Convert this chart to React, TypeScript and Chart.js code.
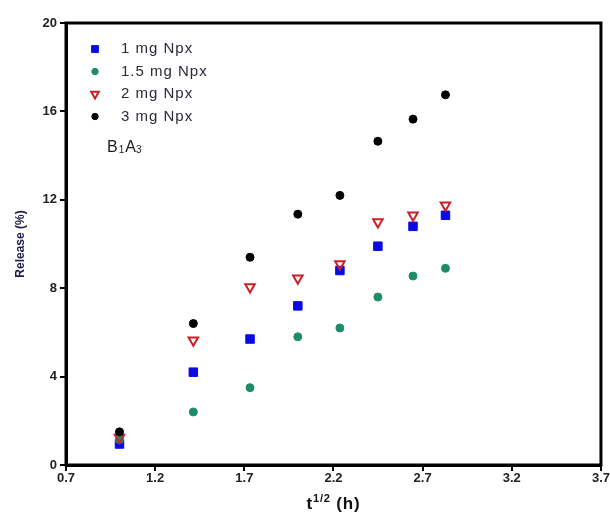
import React, { useEffect, useRef } from "react";
import { Chart, registerables } from "chart.js";
import { drawPoint } from "chart.js/helpers";

Chart.register(...registerables);

const tValues = [1.0, 1.414, 1.732, 2.0, 2.236, 2.449, 2.646, 2.828];
const release1mg = [0.95, 4.2, 5.7, 7.2, 8.8, 9.9, 10.8, 11.3];
const release15mg = [1.15, 2.4, 3.5, 5.8, 6.2, 7.6, 8.55, 8.9];
const release2mg = [1.25, 5.65, 8.05, 8.45, 9.1, 11.0, 11.3, 11.75];
const release3mg = [1.5, 6.4, 9.4, 11.35, 12.2, 14.65, 15.65, 16.75];
const seriesLabels = ["1 mg Npx", "1.5 mg Npx", "2 mg Npx", "3 mg Npx"];

const FONT = "Arial, 'Liberation Sans', sans-serif";

const toPts = (ys: number[]) => ys.map((y, i) => ({ x: tValues[i], y }));

export default function App() {
  const ref = useRef<HTMLCanvasElement | null>(null);
  useEffect(() => {
    document.body.style.margin = "0";
    const canvas = ref.current!;
    const boxPlugin = {
      id: "boxAndLegend",
      afterDraw(chart: any) {
        const ctx = chart.ctx as CanvasRenderingContext2D;
        const a = chart.chartArea;
        ctx.save();
        ctx.strokeStyle = "#000";
        ctx.lineWidth = 3;
        ctx.strokeRect(a.left, a.top, a.right - a.left, a.bottom - a.top);

        // legend
        const rows = [49, 71.5, 94, 116.5];
        [0, 1, 2, 3].forEach((di, r) => {
          const ds = chart.data.datasets[di];
          ctx.fillStyle = ds.backgroundColor;
          ctx.strokeStyle = ds.borderColor;
          ctx.lineWidth = ds.borderWidth;
          drawPoint(
            ctx,
            {
              pointStyle: ds.pointStyle,
              radius: ds.pointRadius * 0.8,
              rotation: ds.pointRotation || 0,
              borderWidth: ds.borderWidth,
            } as any,
            95,
            rows[r]
          );
        });
        ctx.fillStyle = "#2b2b38";
        ctx.font = `15px ${FONT}`;
        (ctx as any).letterSpacing = "1px";
        ctx.textBaseline = "middle";
        ctx.textAlign = "left";
        seriesLabels.forEach((l, r) => ctx.fillText(l, 121, rows[r]));

        // B1A3 label
        ctx.fillStyle = "#1a1a1a";
        (ctx as any).letterSpacing = "0px";
        ctx.textBaseline = "alphabetic";
        let x = 107;
        const by = 152;
        ctx.font = `16px ${FONT}`;
        ctx.fillText("B", x, by);
        x += ctx.measureText("B").width + 1;
        ctx.font = `10px ${FONT}`;
        ctx.fillText("1", x, by + 1);
        x += ctx.measureText("1").width + 1;
        ctx.font = `16px ${FONT}`;
        ctx.fillText("A", x, by);
        x += ctx.measureText("A").width;
        ctx.font = `10px ${FONT}`;
        ctx.fillText("3", x, by + 1);

        // x title with superscript
        const base = 509;
        ctx.fillStyle = "#111";
        (ctx as any).letterSpacing = "0.8px";
        ctx.font = `bold 17px ${FONT}`;
        const wT = ctx.measureText("t").width;
        const wH = ctx.measureText(" (h)").width;
        ctx.font = `bold 11px ${FONT}`;
        const wS = ctx.measureText("1/2").width;
        const total = wT + wS + wH;
        let tx = (a.left + a.right) / 2 - total / 2;
        ctx.font = `bold 17px ${FONT}`;
        ctx.fillText("t", tx, base);
        tx += wT;
        ctx.font = `bold 11px ${FONT}`;
        ctx.fillText("1/2", tx, base - 7);
        tx += wS;
        ctx.font = `bold 17px ${FONT}`;
        ctx.fillText(" (h)", tx, base);
        ctx.restore();
      },
    };

    const chart = new Chart(canvas, {
      type: "scatter",
      data: {
        datasets: [
          {
            label: seriesLabels[0],
            data: toPts(release1mg),
            pointStyle: "rect",
            pointRadius: 6,
            backgroundColor: "#0a0ae6",
            borderColor: "#0a0ae6",
            borderWidth: 1,
            order: 3,
          },
          {
            label: seriesLabels[1],
            data: toPts(release15mg),
            pointStyle: "circle",
            pointRadius: 4,
            backgroundColor: "#1f8c68",
            borderColor: "#1f8c68",
            borderWidth: 1,
            order: 2,
          },
          {
            label: seriesLabels[2],
            data: toPts(release2mg),
            pointStyle: "triangle",
            pointRotation: 180,
            pointRadius: 5.5,
            backgroundColor: "rgba(255,255,255,0)",
            borderColor: "#c8202a",
            borderWidth: 2,
            order: 1,
          },
          {
            label: seriesLabels[3],
            data: toPts(release3mg),
            pointStyle: "circle",
            pointRadius: 4,
            backgroundColor: "#000",
            borderColor: "#000",
            borderWidth: 1,
            order: 0,
          },
        ] as any,
      },
      options: {
        animation: false,
        responsive: false,
        layout: { padding: { top: 23, right: 8, left: 0, bottom: 0 } },
        plugins: { legend: { display: false }, tooltip: { enabled: false } },
        scales: {
          x: {
            type: "linear",
            min: 0.7,
            max: 3.7,
            afterFit: (s: any) => {
              s.height = 51;
            },
            ticks: {
              stepSize: 0.5,
              padding: 0,
              color: "#222",
              font: { family: FONT, size: 13, weight: "bold" },
              callback: (v: any) => Number(v).toFixed(1),
            },
            grid: {
              display: true,
              drawOnChartArea: false,
              drawTicks: true,
              tickLength: 6,
              color: "#000",
              lineWidth: 2,
            },
            border: { display: true, color: "#000", width: 3 },
          },
          y: {
            type: "linear",
            min: 0,
            max: 20,
            afterFit: (s: any) => {
              s.width = 66;
            },
            ticks: {
              stepSize: 4,
              padding: 3,
              color: "#222",
              font: { family: FONT, size: 13, weight: "bold" },
            },
            grid: {
              display: true,
              drawOnChartArea: false,
              drawTicks: true,
              tickLength: 6,
              color: "#000",
              lineWidth: 2,
            },
            border: { display: true, color: "#000", width: 3 },
            title: {
              display: true,
              text: "Release (%)",
              color: "#1c1c48",
              font: { family: FONT, size: 12, weight: "bold" },
              padding: { top: 13, bottom: 0 },
            },
          },
        },
      },
      plugins: [boxPlugin],
    });
    return () => chart.destroy();
  }, []);
  return <canvas ref={ref} width={610} height={516} style={{ display: "block" }} />;
}
